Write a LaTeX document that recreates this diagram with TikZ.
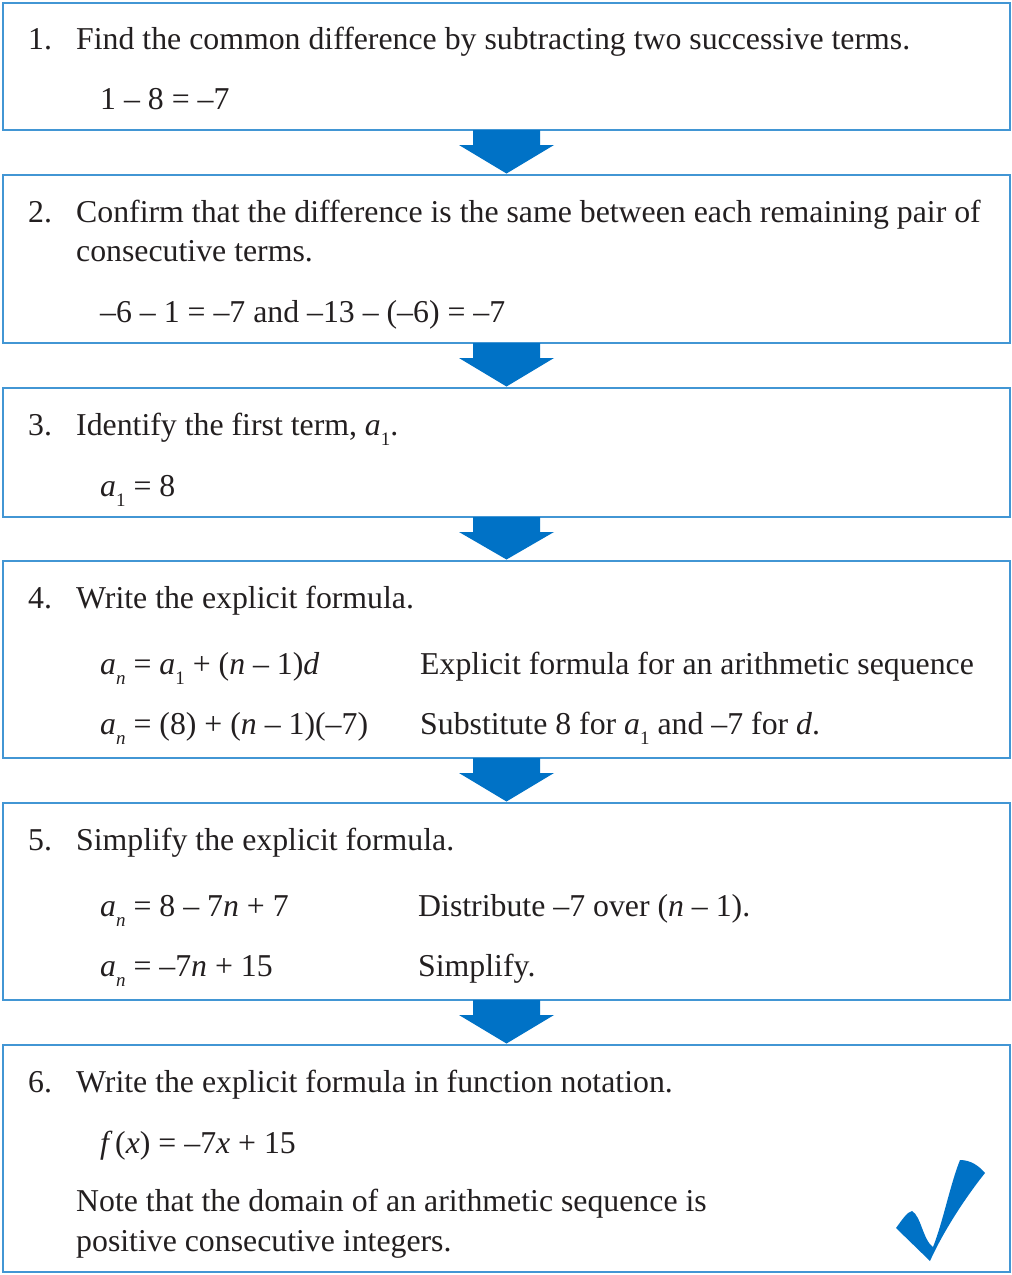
\documentclass[tikz,border=0pt]{standalone}
\usepackage{fontspec}
\setmainfont{Liberation Serif}
\usetikzlibrary{calc}
\definecolor{boxblue}{RGB}{66,150,212}
\definecolor{arrowblue}{RGB}{0,114,198}
\definecolor{textgray}{RGB}{35,31,32}
\newcommand\sbi[1]{\raisebox{-0.32em}{\fontsize{19}{19}\selectfont\itshape #1}}
\newcommand\sbu[1]{\raisebox{-0.32em}{\fontsize{19}{19}\selectfont #1}}
\newcommand\flowarrow[2]{%
  \fill[arrowblue] ($(#1.south)+(-33.5,0)$) -- ($(#1.south)+(33.5,0)$) -- ($(#1.south)+(33.5,15)$) -- ($(#1.south)+(47.5,15)$) -- ($(#2.north)+(0,-1.5)$) -- ($(#1.south)+(-47.5,15)$) -- ($(#1.south)+(-33.5,15)$) -- cycle;}
\begin{document}
\begin{tikzpicture}[x=1pt,y=-1pt,
  stepbox/.style={draw=boxblue,line width=1.8pt,minimum width=1007pt,inner sep=0pt,outer sep=0pt,anchor=north west},
  txt/.style={anchor=base west,inner sep=0pt,text=textgray,font=\fontsize{31.8}{38}\selectfont}]
\useasboundingbox (0,0) rectangle (1012,1275);
\fill[white] (0,0) rectangle (1012,1275);
% boxes
\node[stepbox,minimum height=127pt] (b1) at (3,3) {};
\node[stepbox,minimum height=168pt] (b2) at (3,175) {};
\node[stepbox,minimum height=129pt] (b3) at (3,388) {};
\node[stepbox,minimum height=197pt] (b4) at (3,561) {};
\node[stepbox,minimum height=197pt] (b5) at (3,803) {};
\node[stepbox,minimum height=227pt] (b6) at (3,1045) {};
% arrows
\flowarrow{b1}{b2}
\flowarrow{b2}{b3}
\flowarrow{b3}{b4}
\flowarrow{b4}{b5}
\flowarrow{b5}{b6}
% box 1
\node[txt] (n1) at (28,49) {1.};
\node[txt] (t1) at (76,49) {Find the common difference by subtracting two successive terms.};
\node[txt] (e1) at (100,109) {1 – 8 = –7};
% box 2
\node[txt] (n2) at (28,222) {2.};
\node[txt] (t2a) at (76,222) {Confirm that the difference is the same between each remaining pair of};
\node[txt] (t2b) at (76,261) {consecutive terms.};
\node[txt] (e2) at (100,322) {–6 – 1 = –7 and –13 – (–6) = –7};
% box 3
\node[txt] (n3) at (28,435) {3.};
\node[txt] (t3) at (76,435) {Identify the first term, \textit{a}\sbu{1}.};
\node[txt] (e3) at (100,496) {\textit{a}\sbu{1} = 8};
% box 4
\node[txt] (n4) at (28,608) {4.};
\node[txt] (t4) at (76,608) {Write the explicit formula.};
\node[txt] (e4a) at (100,674) {\textit{a}\sbi{n} = \textit{a}\sbu{1} + (\textit{n} – 1)\textit{d}};
\node[txt] (c4a) at (420,674) {Explicit formula for an arithmetic sequence};
\node[txt] (e4b) at (100,734) {\textit{a}\sbi{n} = (8) + (\textit{n} – 1)(–7)};
\node[txt] (c4b) at (420,734) {Substitute 8 for \textit{a}\sbu{1} and –7 for \textit{d}.};
% box 5
\node[txt] (n5) at (28,850) {5.};
\node[txt] (t5) at (76,850) {Simplify the explicit formula.};
\node[txt] (e5a) at (100,916) {\textit{a}\sbi{n} = 8 – 7\textit{n} + 7};
\node[txt] (c5a) at (418,916) {Distribute –7 over (\textit{n} – 1).};
\node[txt] (e5b) at (100,976) {\textit{a}\sbi{n} = –7\textit{n} + 15};
\node[txt] (c5b) at (418,976) {Simplify.};
% box 6
\node[txt] (n6) at (28,1092) {6.};
\node[txt] (t6) at (76,1092) {Write the explicit formula in function notation.};
\node[txt] (e6) at (100,1153) {\textit{f}\kern0.08em(\textit{x}) = –7\textit{x} + 15};
\node[txt] (t6b) at (76,1211) {Note that the domain of an arithmetic sequence is};
\node[txt] (t6c) at (76,1251) {positive consecutive integers.};
% check mark
\fill[arrowblue] (930,1261) -- (896,1228) .. controls (902,1220) and (907,1212) .. (912,1211)
  .. controls (921,1216) and (923,1240) .. (933,1247)
  .. controls (943,1222) and (950,1185) .. (960,1160)
  .. controls (971,1160) and (979,1166) .. (985,1173)
  .. controls (965,1198) and (943,1232) .. (930,1261) -- cycle;
\end{tikzpicture}
\end{document}
